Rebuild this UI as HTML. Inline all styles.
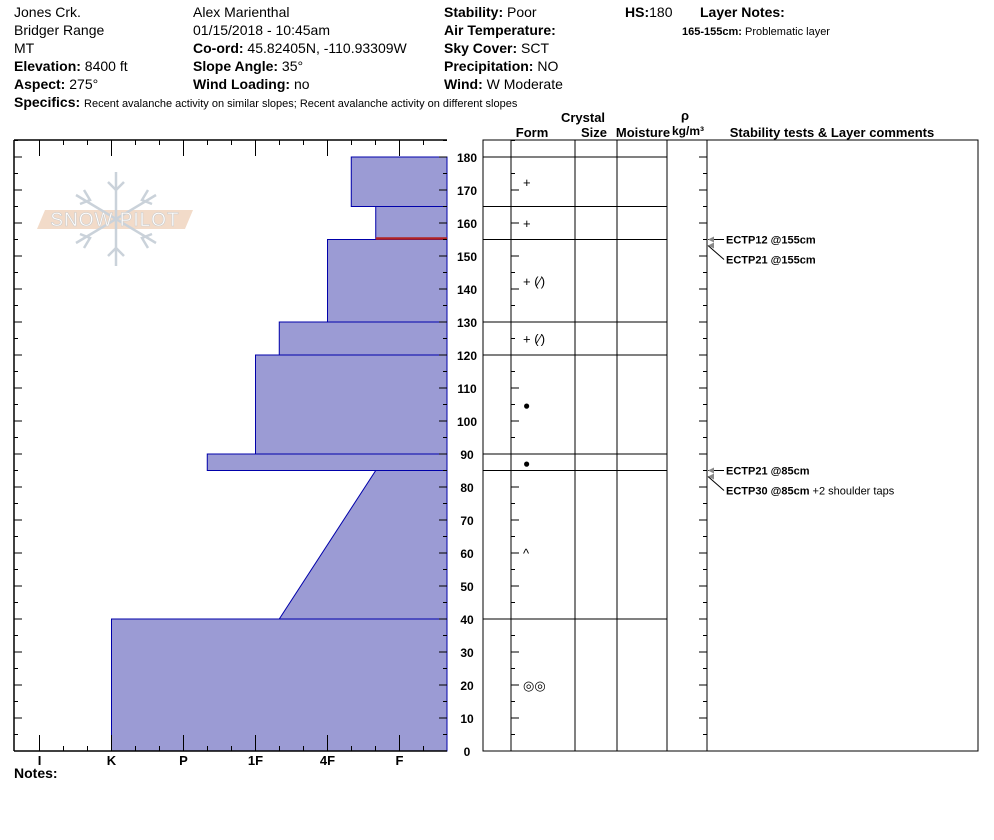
<!DOCTYPE html>
<html><head><meta charset="utf-8"><style>
body{margin:0;background:#fff;width:994px;height:840px;overflow:hidden;font-family:"Liberation Sans",sans-serif}
svg{position:absolute;left:0;top:0}
</style></head><body>
<svg width="994" height="840" font-family="Liberation Sans, sans-serif">
<g font-size="14" fill="#000">
<text x="14" y="17">Jones Crk.</text>
<text x="14" y="35">Bridger Range</text>
<text x="14" y="53">MT</text>
<text x="14" y="71"><tspan font-weight="bold">Elevation:</tspan> 8400 ft</text>
<text x="14" y="89"><tspan font-weight="bold">Aspect:</tspan> 275°</text>
<text x="193" y="17">Alex Marienthal</text>
<text x="193" y="35">01/15/2018 - 10:45am</text>
<text x="193" y="53"><tspan font-weight="bold">Co-ord:</tspan> 45.82405N, -110.93309W</text>
<text x="193" y="71"><tspan font-weight="bold">Slope Angle:</tspan> 35°</text>
<text x="193" y="89"><tspan font-weight="bold">Wind Loading:</tspan> no</text>
<text x="444" y="17"><tspan font-weight="bold">Stability:</tspan> Poor</text>
<text x="444" y="35" font-weight="bold">Air Temperature:</text>
<text x="444" y="53"><tspan font-weight="bold">Sky Cover:</tspan> SCT</text>
<text x="444" y="71"><tspan font-weight="bold">Precipitation:</tspan> NO</text>
<text x="444" y="89"><tspan font-weight="bold">Wind:</tspan>  W Moderate</text>
<text x="625" y="17"><tspan font-weight="bold">HS:</tspan>180</text>
<text x="700" y="17" font-weight="bold">Layer Notes:</text>
<text x="682" y="35" font-size="11"><tspan font-weight="bold">165-155cm:</tspan> Problematic layer</text>
<text x="14" y="107"><tspan font-weight="bold">Specifics:</tspan> <tspan font-size="11">Recent avalanche activity on similar slopes; Recent avalanche activity on different slopes</tspan></text>
</g>
<g opacity="0.9">
<polygon points="45,210 193,210 185,229 37,229" fill="#f1d8c4"/>
<g stroke="#c5ced6" stroke-width="2.5" fill="none"><line x1="116" y1="172" x2="116" y2="266"/><line x1="76" y1="195" x2="156" y2="243"/><line x1="76" y1="243" x2="156" y2="195"/>
<polyline points="108,182 116,190 124,182"/><polyline points="108,256 116,248 124,256"/><polyline points="84,190 90,200 80,204"/><polyline points="148,190 142,200 152,204"/><polyline points="84,248 90,238 80,234"/><polyline points="148,248 142,238 152,234"/></g>
<text x="115" y="226" text-anchor="middle" font-size="19" fill="#fff" stroke="#c8c8c8" stroke-width="0.6" letter-spacing="1">SNOW PILOT</text>
</g>
<g id="hard"></g>
<g id="grid"></g>
<g font-size="13" font-weight="bold">
<text x="583" y="122" text-anchor="middle">Crystal</text>
<text x="532" y="137" text-anchor="middle">Form</text>
<text x="594" y="137" text-anchor="middle">Size</text>
<text x="643" y="137" text-anchor="middle">Moisture</text>
<text x="685" y="120" text-anchor="middle">ρ</text>
<text x="688" y="135" text-anchor="middle" font-size="12">kg/m³</text>
<text x="832" y="137" text-anchor="middle">Stability tests &amp; Layer comments</text>
</g>
<text x="14" y="778" font-size="14" font-weight="bold">Notes:</text>
</svg>
<script>
const layerTops=[180,165,155,130,120,90,85,40];
const layerBottoms=[165,155,130,120,90,85,40,0];
const hardTop=[4.33,4.67,4,3.33,3,2.33,4.67,1];
const hardBottom=[4.33,4.67,4,3.33,3,2.33,3.33,1];
const formSymbols=['+','+','+ (⁄)','+ (⁄)','●','●','^','◎◎'];
const hardLabels=['I','K','P','1F','4F','F'];
const yTicks=[0,10,20,30,40,50,60,70,80,90,100,110,120,130,140,150,160,170,180];
const tests=[{h:155,t:'ECTP12 @155cm'},{h:155,t:'ECTP21 @155cm'},{h:85,t:'ECTP21 @85cm'},{h:85,t:'ECTP30 @85cm  +2 shoulder taps'}];
const NS='http://www.w3.org/2000/svg';
const y=h=>751-h*3.3;
const x=v=>39.5+72*v;
function mk(p,tag,a){const e=document.createElementNS(NS,tag);for(const k in a)e.setAttribute(k,a[k]);p.appendChild(e);return e;}
const H=document.getElementById('hard'),G=document.getElementById('grid');
layerTops.forEach((t,i)=>{
 const b=layerBottoms[i];
 const p=mk(H,'polygon',{points:`${x(hardTop[i])},${y(t)} 447,${y(t)} 447,${y(b)} ${x(hardBottom[i])},${y(b)}`,fill:'#9b9bd4',stroke:'#0000aa','stroke-width':1});
 
 
});
const red=mk(H,'line',{x1:x(4.67),y1:y(155)-1,x2:447,y2:y(155)-1,stroke:'#b22222','stroke-width':2.5});


mk(H,'line',{x1:14,y1:140,x2:447,y2:140,stroke:'#000','stroke-width':1.5});
mk(H,'line',{x1:14,y1:140,x2:14,y2:751,stroke:'#000','stroke-width':1.5});
mk(H,'line',{x1:14,y1:751,x2:447,y2:751,stroke:'#000','stroke-width':1.5});
for(let k=0;k<=17;k++){const xx=x(k/3);if(xx>447)break;const L=k%3==0?16:5;
 mk(H,'line',{x1:xx,y1:140,x2:xx,y2:140+L,stroke:'#000'});mk(H,'line',{x1:xx,y1:751,x2:xx,y2:751-L,stroke:'#000'});}
hardLabels.forEach((l,i)=>{const t=mk(H,'text',{x:x(i),y:765,'text-anchor':'middle','font-size':13,'font-weight':'bold'});t.textContent=l;
 
 });
for(let h=0;h<=185;h+=5){const L=h%10==0?8:4;
 mk(H,'line',{x1:14,y1:y(h),x2:14+L,y2:y(h),stroke:'#000'});
 mk(H,'line',{x1:447,y1:y(h),x2:447-L,y2:y(h),stroke:'#000'});
 mk(G,'line',{x1:511,y1:y(h),x2:511+L,y2:y(h),stroke:'#000'});
 if(h<=180)mk(G,'line',{x1:707,y1:y(h),x2:707-L,y2:y(h),stroke:'#000'});}
yTicks.forEach(h=>{const t=mk(H,'text',{x:467,y:y(h)+5,'text-anchor':'middle','font-size':12,'font-weight':'bold'});t.textContent=h;
 
 });
mk(G,'rect',{x:483,y:140,width:495,height:611,fill:'none',stroke:'#000'});
[511,575,617,667,707].forEach(c=>mk(G,'line',{x1:c,y1:140,x2:c,y2:751,stroke:'#000'}));
layerTops.forEach(t=>{mk(G,'line',{x1:483,y1:y(t),x2:667,y2:y(t),stroke:'#000'});});
formSymbols.forEach((s,i)=>{if(i==5)return;const m=(layerTops[i]+layerBottoms[i])/2;
 const hh=i==4?105:i==6?60:i==7?20:m;
 const t=mk(G,'text',{x:523,y:y(hh)+5,'font-size':s=='●'?12:13});t.textContent=s;
 
 });
const t5=mk(G,'text',{x:523,y:y(87.5)+5,'font-size':12});t5.textContent='●';


tests.forEach((s,i)=>{const yy=y(s.h)+(i%2)*20;
 mk(G,'line',{x1:708,y1:y(s.h)+(i%2)*6,x2:724,y2:yy,stroke:'#000'});
 mk(G,'polygon',{points:`708,${y(s.h)+(i%2)*6} 714,${y(s.h)-3+(i%2)*6} 714,${y(s.h)+3+(i%2)*6}`,fill:'#888'});
 const t=mk(G,'text',{x:726,y:yy+4,'font-size':11});
 const parts=s.t.split('  ');
 const b=mk(t,'tspan',{'font-weight':'bold'});b.textContent=parts[0];
 if(parts[1]){const n=mk(t,'tspan',{});n.textContent='  '+parts[1];}
 
 });
</script>
</body></html>
